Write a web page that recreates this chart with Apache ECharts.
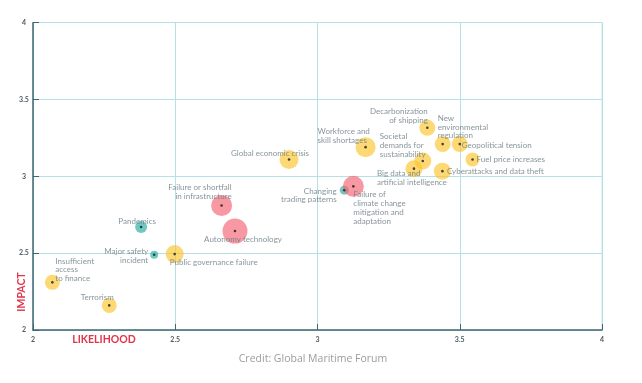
<!DOCTYPE html>
<html>
<head>
<meta charset="utf-8">
<script src="https://cdn.jsdelivr.net/npm/echarts@6/dist/echarts.min.js"></script>
<style>
html,body{margin:0;padding:0;background:#fff;}
#chart{width:642px;height:383px;}
</style>
</head>
<body>
<div id="chart"></div>
<script>
// ---- data ----
var risks = [
  "Insufficient\naccess\nto finance",
  "Terrorism",
  "Pandemics",
  "Major safety\nincident",
  "Public governance failure",
  "Failure or shortfall\nin infrastructure",
  "Autonomy technology",
  "Global economic crisis",
  "Changing\ntrading patterns",
  "Failure of\nclimate change\nmitigation and\nadaptation",
  "Workforce and\nskill shortages",
  "Societal\ndemands for\nsustainability",
  "Big data and\nartificial intelligence",
  "Decarbonization\nof shipping",
  "New\nenvironmental\nregulation",
  "Geopolitical tension",
  "Fuel price increases",
  "Cyberattacks and data theft"
];
var likelihood = [2.068, 2.268, 2.38, 2.426, 2.498, 2.663, 2.71, 2.90, 3.094, 3.126, 3.169, 3.37, 3.339, 3.386, 3.44, 3.50, 3.545, 3.439];
var impact     = [2.31, 2.16, 2.67, 2.49, 2.494, 2.81, 2.644, 3.11, 2.91, 2.935, 3.19, 3.10, 3.05, 3.316, 3.21, 3.21, 3.11, 3.034];
var weight     = [15, 15, 12, 8, 18, 21, 25, 19, 9, 21, 20, 17, 17, 16, 16, 16, 14, 17];
var group      = ["econ","econ","health","health","econ","tech","tech","econ","health","tech","econ","econ","econ","econ","econ","econ","econ","econ"];
var axisTicks  = [2, 2.5, 3, 3.5, 4];

// ---- styles ----
var groupColor = {econ: "rgba(252,197,45,0.82)", tech: "rgba(244,98,114,0.82)", health: "rgba(52,176,166,0.88)"};
// label placement: [dx, dy, align]
var labelPlace = [
  [3, -12.5, "left"],
  [-12, -8, "center"],
  [-4, -6, "center"],
  [-6, 1.5, "right"],
  [-5, 8, "left"],
  [10, -13.5, "right"],
  [8, 8, "center"],
  [-19, -6, "center"],
  [-7.5, 5.3, "right"],
  [0, 21.5, "left"],
  [-48, -11, "left"],
  [-43, -15.5, "left"],
  [-37, 9, "left"],
  [0.5, -12, "right"],
  [-5, -17, "left"],
  [2, 1.5, "left"],
  [4, 0, "left"],
  [4.5, 0.7, "left"]
];

var bubbles = [], dots = [];
for (var i = 0; i < risks.length; i++) {
  bubbles.push({
    value: [likelihood[i], impact[i]],
    symbolSize: weight[i],
    itemStyle: {color: groupColor[group[i]]}
  });
  dots.push({
    name: risks[i],
    value: [likelihood[i], impact[i]]
  });
}

var axisColor = "#3e6670";
var gridColor = "#b4e0e6";
var tickLabel = {fontSize: 7, fontWeight: "bold", color: "#4a5a60", fontFamily: "Lato"};

var chart = echarts.init(document.getElementById("chart"), null, {renderer: "canvas"});
chart.setOption({
  animation: false,
  backgroundColor: "#ffffff",
  grid: {left: 33, right: 40, top: 22.7, bottom: 53, containLabel: false},
  xAxis: {
    type: "value", min: 2, max: 4, interval: 0.5,
    axisLine: {show: true, lineStyle: {color: axisColor, width: 1.5}},
    axisTick: {show: true, inside: true, length: 6, lineStyle: {color: axisColor}},
    axisLabel: Object.assign({margin: 6, formatter: function(v){return String(v);}}, tickLabel),
    splitLine: {show: true, lineStyle: {color: gridColor, width: 1}}
  },
  yAxis: {
    type: "value", min: 2, max: 4, interval: 0.5,
    axisLine: {show: true, lineStyle: {color: axisColor, width: 1.5}},
    axisTick: {show: true, inside: true, length: 6, lineStyle: {color: axisColor}},
    axisLabel: Object.assign({margin: 9, align: "center", formatter: function(v){return String(v);}}, tickLabel),
    splitLine: {show: true, lineStyle: {color: gridColor, width: 1}}
  },
  graphic: [
    {type: "rect", silent: true, z: -1, shape: {x: 602.3, y: 22.7, width: 0, height: 307.3}, style: {stroke: gridColor, lineWidth: 1, fill: null}},
    {type: "text", x: 104, y: 340, style: {text: "LIKELIHOOD", fill: "#e0364c", font: "bold 10.5px Lato", textAlign: "center", textVerticalAlign: "middle"}},
    {type: "text", x: 22, y: 292, rotation: Math.PI / 2, style: {text: "IMPACT", fill: "#e0364c", font: "bold 10.5px Lato", textAlign: "center", textVerticalAlign: "middle"}},
    {type: "text", x: 313, y: 359, style: {text: "Credit: Global Maritime Forum", fill: "#9c9c9c", font: "10.5px 'Open Sans'", textAlign: "center", textVerticalAlign: "middle"}}
  ],
  series: [
    {
      type: "scatter",
      symbol: "circle",
      data: bubbles,
      silent: true,
      z: 2
    },
    {
      type: "scatter",
      symbol: "circle",
      symbolSize: 2.6,
      itemStyle: {color: "#1a1a1a"},
      data: dots,
      silent: true,
      z: 3,
      label: {
        show: true, position: "inside", fontSize: 8, lineHeight: 8.8, color: "#687b82", fontFamily: "Lato",
        formatter: function (p) { return risks[p.dataIndex]; }
      },
      labelLayout: function (p) {
        var lp = labelPlace[p.dataIndex];
        var r = p.labelRect;
        var cx = r.x + r.width / 2, cy = r.y + r.height / 2;
        return {x: cx + lp[0], y: cy + lp[1], align: lp[2], verticalAlign: "middle", hideOverlap: false};
      }
    }
  ]
});
</script>
</body>
</html>
